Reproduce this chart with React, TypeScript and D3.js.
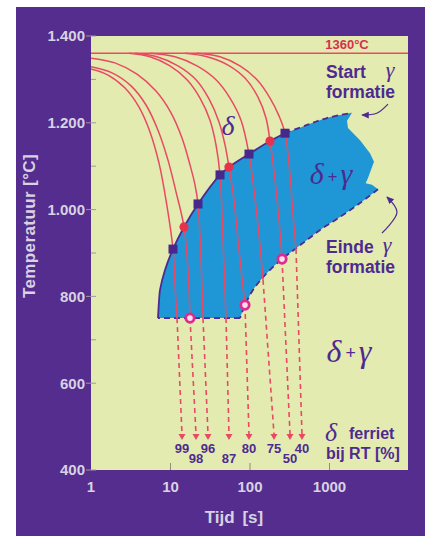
import React from "react";
import * as d3 from "d3";

type P = [number, number]; // [tijd s, temperatuur °C]

// cooling curves (solid part)
const curve99: P[] = [[1, 1324], [1.64, 1310], [2.68, 1280], [4.02, 1236], [5.52, 1179], [7.17, 1107], [8.78, 1022], [10.75, 909], [11.4, 826], [12.08, 750]];
const curve98: P[] = [[1, 1329], [1.84, 1315], [3.19, 1285], [4.92, 1241], [6.96, 1183], [9.3, 1114], [11.73, 1041], [14.79, 960], [16.6, 861], [17.59, 750]];
const curve96: P[] = [[1, 1349], [2.0, 1338], [3.79, 1312], [6.57, 1273], [10.15, 1223], [13.95, 1165], [17.59, 1103], [20.33, 1057], [22.18, 1013], [24.19, 884], [25.63, 750]];
const curve87: P[] = [[3.0, 1360], [5.52, 1352], [9.86, 1331], [16.13, 1299], [23.5, 1257], [31.39, 1206], [37.35, 1149], [41.95, 1080], [45.75, 930], [49.9, 750]];
const curve80: P[] = [[3.58, 1360], [6.76, 1352], [12.42, 1331], [20.93, 1299], [30.5, 1255], [40.75, 1202], [48.5, 1149], [54.4, 1098], [62.9, 1022], [72.7, 907], [86.5, 780]];
const curve75: P[] = [[5.52, 1360], [11.4, 1352], [21.55, 1331], [37.35, 1299], [56.0, 1257], [77.1, 1206], [97.1, 1128], [112.3, 1045], [129.8, 941], [145.8, 838]];
const curve50: P[] = [[15.22, 1360], [28.79, 1352], [52.9, 1333], [86.5, 1303], [126.1, 1259], [158.9, 1211], [178.5, 1158], [206.3, 1068], [231.6, 976], [252.8, 886]];
const curve40: P[] = [[21.55, 1360], [41.95, 1352], [74.8, 1331], [122.5, 1299], [178.5, 1257], [231.6, 1216], [275.6, 1176], [318.6, 1080], [347.4, 988], [379.0, 909]];

// ferrite content at room temperature [%], and where each dashed drop ends (arrow tip)
const ferrite = [99, 98, 96, 87, 80, 75, 50, 40];
const ferriteLowered = [false, true, false, true, false, false, true, false];
const arrowTips: P[] = [[13.95, 469], [20.93, 469], [29.63, 469], [54.4, 469], [97.1, 469], [200.4, 469], [318.6, 469], [450.7, 469]];

// start / end of gamma formation
const startLine: P[] = [[6.96, 750], [7.17, 790], [7.38, 815], [8.53, 861], [10.75, 909], [14.79, 960], [22.18, 1013], [41.95, 1080], [54.4, 1098], [97.1, 1128], [178.5, 1158], [275.6, 1176]];
const startLineDashed: P[] = [[275.6, 1176], [521, 1195], [930, 1211], [1918, 1223]];
const rightEdge: P[] = [[1918, 1223], [1660, 1204], [1709, 1188], [2421, 1160], [3231, 1130], [3630, 1110], [3050, 1073], [2850, 1061], [3427, 1057], [4074, 1047]];
const endLine: P[] = [[4074, 1047], [2421, 1015], [1355, 983], [760, 953], [521, 930], [368.1, 909], [252.8, 886], [163.6, 854], [109.1, 815], [86.5, 780], [74.8, 750]];
const endBottom: P[] = [[74.8, 750], [6.96, 750]];

const startSquares: P[] = [[10.75, 909], [22.18, 1013], [41.95, 1080], [97.1, 1128], [275.6, 1176]];
const startDots: P[] = [[14.79, 960], [54.4, 1098], [178.5, 1158]];
const endRings: P[] = [[17.59, 750], [86.5, 780], [252.8, 886]];

const startArrow: P[] = [[5445, 1243], [3926, 1222], [2566, 1218]];
const eindeArrow: P[] = [[4573, 946], [7063, 994], [5286, 1029]];

const yTicks = [400, 600, 800, 1000, 1200, 1400];
const yMinor = [700, 900, 1100, 1300];
const xTicks = [1, 10, 100, 1000];
const meltTemp = 1360;

const curves = [curve99, curve98, curve96, curve87, curve80, curve75, curve50, curve40];

const W = 425;
const H = 536;
const sans = "'Liberation Sans', Arial, sans-serif";
const serif = "'Liberation Serif', 'DejaVu Serif', serif";
const purple = "#542d8e";
const ink = "#4e2a90";
const red = "#e84a64";
const light = "#d8d2e2";

const x = d3.scaleLog().domain([1, 10000]).range([91, 409]);
const y = d3.scaleLinear().domain([400, 1400]).range([470, 36]);

const smooth = d3.line<P>().x(d => x(d[0])).y(d => y(d[1])).curve(d3.curveCatmullRom.alpha(0.5));
const straight = d3.line<P>().x(d => x(d[0])).y(d => y(d[1]));

const fmt = (v: number) => (v >= 1000 ? d3.format(",")(v).replace(",", ".") : String(v));

export default function App() {
  const [x0, x1] = x.range();
  const [yb, yt] = y.range();

  const region =
    smooth(startLine)! +
    smooth(startLineDashed)!.replace(/^M/, "L") +
    straight(rightEdge)!.replace(/^M/, "L") +
    smooth(endLine)!.replace(/^M/, "L") +
    straight(endBottom)!.replace(/^M/, "L") +
    "Z";

  const gammaSign = (cx: number, by: number, size: number) => (
    <text x={cx} y={by} textAnchor="middle" fill={ink} fontFamily={serif} fontStyle="italic" fontSize={size}>
      δ<tspan fontFamily={sans} fontStyle="normal" fontSize={size * 0.55} dx={4} dy={-size * 0.08}>+</tspan>
      <tspan dx={3} dy={size * 0.08}>γ</tspan>
    </text>
  );

  return (
    <svg width={W} height={H} style={{ position: "absolute", left: 0, top: 0, display: "block" }}>
      <defs>
        <marker id="ah" viewBox="0 0 10 10" refX="8" refY="5" markerWidth="7" markerHeight="7" orient="auto">
          <path d="M0,1 L9,5 L0,9 Z" fill={ink} />
        </marker>
        <clipPath id="plot">
          <rect x={x0} y={yt} width={x1 - x0 - 1} height={yb - yt} />
        </clipPath>
      </defs>
      <rect x={0} y={0} width={W} height={H} fill="#fff" />
      <rect x={16} y={7} width={W - 16} height={H - 7} fill={purple} />
      <rect x={x0} y={yt} width={x1 - x0 - 1} height={yb - yt} fill="#e3ebb0" />

      <g clipPath="url(#plot)">
        <path d={region} fill="#1f97d7" />
        <path d={`M${x0},${y(meltTemp)}H${x1}`} fill="none" stroke="#ec4a64" strokeWidth={1.5} />
        <path d={smooth(startLine)!} fill="none" stroke={ink} strokeWidth={1.8} />
        <path d={smooth(startLineDashed)!} fill="none" stroke={ink} strokeWidth={1.8} strokeDasharray="6,4" />
        <path d={smooth(endLine)!} fill="none" stroke={ink} strokeWidth={1.8} strokeDasharray="6,4" />
        <path d={straight(endBottom)!} fill="none" stroke={ink} strokeWidth={1.8} strokeDasharray="6,4" />

        {curves.map((c, i) => (
          <path key={"c" + i} d={smooth(c)!} fill="none" stroke={red} strokeWidth={1.5} />
        ))}
        {curves.map((c, i) => {
          const a = c[c.length - 1];
          const b = arrowTips[i];
          return (
            <g key={"d" + i}>
              <line x1={x(a[0])} y1={y(a[1])} x2={x(b[0])} y2={y(b[1]) - 6} stroke={red} strokeWidth={1.6} strokeDasharray="5,4" />
              <path d={`M${x(b[0]) - 3.5},${y(b[1]) - 6}L${x(b[0]) + 3.5},${y(b[1]) - 6}L${x(b[0])},${y(b[1])}Z`} fill={red} />
            </g>
          );
        })}

        {startSquares.map((p, i) => (
          <rect key={"s" + i} x={x(p[0]) - 4.5} y={y(p[1]) - 4.5} width={9} height={9} fill="#48288a" />
        ))}
        {startDots.map((p, i) => (
          <circle key={"o" + i} cx={x(p[0])} cy={y(p[1])} r={4.6} fill="#e6324f" />
        ))}
        {endRings.map((p, i) => (
          <circle key={"r" + i} cx={x(p[0])} cy={y(p[1])} r={4.2} fill="#f6e0ee" stroke="#e02a8e" strokeWidth={2.8} />
        ))}
      </g>

      {/* axes */}
      {yTicks.map(v => (
        <g key={"yt" + v}>
          <line x1={x0 - 5} x2={x0 + 5} y1={y(v)} y2={y(v)} stroke="#9d97a8" strokeWidth={1} />
          <text x={x0 - 6} y={y(v)} dy="0.36em" textAnchor="end" fill={light} fontFamily={sans} fontWeight="bold" fontSize={15}>
            {fmt(v)}
          </text>
        </g>
      ))}
      {yMinor.map(v => (
        <line key={"ym" + v} x1={x0} x2={x0 + 5} y1={y(v)} y2={y(v)} stroke="#9d97a8" strokeWidth={1} />
      ))}
      {xTicks.map(v => (
        <g key={"xt" + v}>
          {v > 1 && <line x1={x(v)} x2={x(v)} y1={yb} y2={yb - 7} stroke="#8d8d78" strokeWidth={1} />}
          <text x={x(v)} y={yb + 22} textAnchor="middle" fill={light} fontFamily={sans} fontWeight="bold" fontSize={15}>
            {v}
          </text>
        </g>
      ))}
      <text x={234} y={523} textAnchor="middle" fill={light} fontFamily={sans} fontWeight="bold" fontSize={17} wordSpacing={3}>
        Tijd [s]
      </text>
      <text transform="translate(35,226) rotate(-90)" textAnchor="middle" fill={light} fontFamily={sans} fontWeight="bold" fontSize={17} letterSpacing={0.4}>
        Temperatuur [°C]
      </text>

      {/* annotations */}
      <text x={347} y={y(meltTemp) - 4} textAnchor="middle" fill="#d8304e" fontFamily={sans} fontWeight="bold" fontSize={13}>
        1360°C
      </text>
      <text x={326} y={78} fill={ink} fontFamily={sans} fontWeight="bold" fontSize={17.5}>Start</text>
      <text x={390} y={77} textAnchor="middle" fill={ink} fontFamily={serif} fontStyle="italic" fontSize={22}>γ</text>
      <text x={326} y={98} fill={ink} fontFamily={sans} fontWeight="bold" fontSize={17.5}>formatie</text>
      <path d={smooth(startArrow)!} fill="none" stroke={ink} strokeWidth={1.2} markerEnd="url(#ah)" />

      <text x={326} y={253} fill={ink} fontFamily={sans} fontWeight="bold" fontSize={17.5}>Einde</text>
      <text x={387} y={252} textAnchor="middle" fill={ink} fontFamily={serif} fontStyle="italic" fontSize={22}>γ</text>
      <text x={326} y={273} fill={ink} fontFamily={sans} fontWeight="bold" fontSize={17.5}>formatie</text>
      <path d={smooth(eindeArrow)!} fill="none" stroke={ink} strokeWidth={1.2} markerEnd="url(#ah)" />

      <text x={228} y={135} textAnchor="middle" fill={ink} fontFamily={serif} fontStyle="italic" fontSize={28}>δ</text>
      {gammaSign(331, 184, 30)}
      {gammaSign(349, 362, 32)}

      <text x={331} y={441} textAnchor="middle" fill={ink} fontFamily={serif} fontStyle="italic" fontSize={26}>δ</text>
      <text x={349} y={439} fill={ink} fontFamily={sans} fontWeight="bold" fontSize={16}>ferriet</text>
      <text x={326} y={459} fill={ink} fontFamily={sans} fontWeight="bold" fontSize={16}>bij RT [%]</text>

      {ferrite.map((v, i) => (
        <text key={"f" + v} x={x(arrowTips[i][0])} y={ferriteLowered[i] ? 463 : 453} textAnchor="middle" fill={ink} fontFamily={sans} fontWeight="bold" fontSize={13}>
          {v}
        </text>
      ))}
    </svg>
  );
}
